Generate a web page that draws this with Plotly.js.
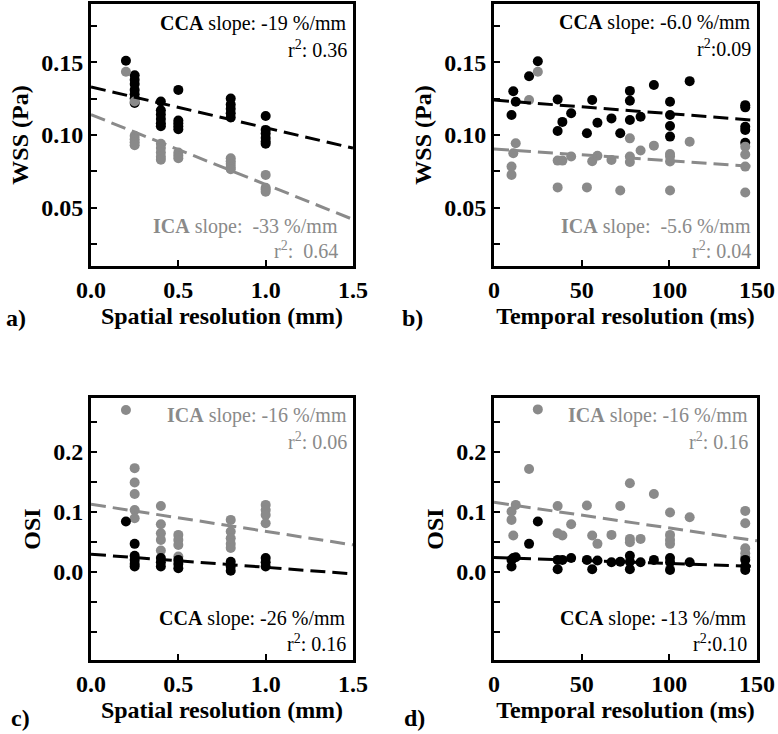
<!DOCTYPE html>
<html>
<head>
<meta charset="utf-8">
<script src="https://cdn.plot.ly/plotly-3.0.1.min.js"></script>
<style>html,body{margin:0;padding:0;background:#fff;}#chart{width:778px;height:734px;}</style>
</head>
<body>
<div id="chart"></div>
<script>
// ---- Panel a: WSS vs spatial resolution ----
const wssSpatialCcaX = [0.2, 0.25,0.25,0.25,0.25,0.25,0.25,0.25, 0.4,0.4,0.4,0.4,0.4,0.4, 0.5,0.5,0.5,0.5,0.5, 0.8,0.8,0.8,0.8,0.8, 1.0,1.0,1.0,1.0,1.0,1.0];
const wssSpatialCcaY = [0.151, 0.141,0.138,0.135,0.131,0.128,0.125,0.122, 0.123,0.117,0.114,0.111,0.108,0.106, 0.131,0.110,0.108,0.106,0.104, 0.125,0.121,0.118,0.115,0.112, 0.113,0.1035,0.101,0.098,0.0955,0.094];
const wssSpatialIcaX = [0.2, 0.25,0.25,0.25,0.25,0.25, 0.4,0.4,0.4,0.4,0.4, 0.5,0.5,0.5, 0.8,0.8,0.8,0.8,0.8, 1.0,1.0,1.0,1.0];
const wssSpatialIcaY = [0.1434, 0.123,0.0995,0.097,0.095,0.093, 0.094,0.091,0.088,0.085,0.083, 0.088,0.086,0.084, 0.084,0.082,0.080,0.078,0.0765, 0.0726,0.0637,0.0625,0.061];
const wssSpatialCcaFitX = [0, 1.5];
const wssSpatialCcaFitY = [0.133, 0.091];
const wssSpatialIcaFitX = [0, 1.5];
const wssSpatialIcaFitY = [0.114, 0.042];

// ---- Panel b: WSS vs temporal resolution ----
const wssTemporalCcaX = [10, 11, 12.4, 20, 25, 36.3, 36.3, 39, 44, 53, 56, 59, 67, 72, 77.5, 77.5, 77.5, 83.6, 91.2, 100.4, 100.4, 100.4, 100.4, 111.6, 143.3, 143.3, 143.3, 143.3, 143.3];
const wssTemporalCcaY = [0.1137, 0.130, 0.1228, 0.1404, 0.1507, 0.1244, 0.1027, 0.109, 0.1149, 0.1012, 0.124, 0.1084, 0.1114, 0.1012, 0.1303, 0.1235, 0.1103, 0.1125, 0.1343, 0.1228, 0.1137, 0.1062, 0.0989, 0.137, 0.1205, 0.119, 0.1057, 0.1035, 0.0947];
const wssTemporalIcaX = [10, 10, 11, 12.4, 20, 25, 36.3, 39, 36.3, 44, 53, 56, 59, 67, 72, 77.5, 77.5, 77.5, 83.6, 91.2, 100.4, 100.4, 100.4, 100.4, 111.6, 143.3, 143.3, 143.3, 143.3];
const wssTemporalIcaY = [0.0783, 0.0726, 0.0875, 0.0943, 0.124, 0.1434, 0.0824, 0.0824, 0.064, 0.0852, 0.064, 0.082, 0.0858, 0.0829, 0.0619, 0.0977, 0.0852, 0.0815, 0.0893, 0.0927, 0.087, 0.0852, 0.0818, 0.0619, 0.0954, 0.092, 0.0866, 0.0783, 0.0605];
const wssTemporalCcaFitX = [0, 150];
const wssTemporalCcaFitY = [0.124, 0.110];
const wssTemporalIcaFitX = [0, 150];
const wssTemporalIcaFitY = [0.0904, 0.0783];

// ---- Panel c: OSI vs spatial resolution ----
const osiSpatialIcaX = [0.2, 0.25,0.25,0.25,0.25,0.25, 0.4,0.4,0.4,0.4,0.4, 0.5,0.5,0.5,0.5, 0.8,0.8,0.8,0.8,0.8, 1.0,1.0,1.0,1.0];
const osiSpatialIcaY = [0.27, 0.173,0.149,0.13,0.103,0.0894, 0.11,0.0794,0.0644,0.0533,0.0356, 0.0617,0.0533,0.045,0.0256, 0.0867,0.0672,0.056,0.0467,0.04, 0.1117,0.103,0.095,0.081];
const osiSpatialCcaX = [0.2, 0.25,0.25,0.25,0.25,0.25, 0.4,0.4,0.4, 0.5,0.5,0.5, 0.8,0.8,0.8, 1.0,1.0,1.0];
const osiSpatialCcaY = [0.0839, 0.0467,0.0267,0.02,0.0133,0.0089, 0.023,0.016,0.009, 0.02,0.0133,0.006, 0.017,0.009,0.002, 0.023,0.016,0.009];
const osiSpatialIcaFitX = [0, 1.5];
const osiSpatialIcaFitY = [0.1128, 0.045];
const osiSpatialCcaFitX = [0, 1.5];
const osiSpatialCcaFitY = [0.0294, -0.0033];

// ---- Panel d: OSI vs temporal resolution ----
const osiTemporalIcaX = [25, 20, 10, 10, 12.4, 11, 36.3, 36.3, 39, 44, 53, 56, 59, 67, 72, 77.5, 77.5, 77.5, 83.6, 91.2, 100.4, 100.4, 100.4, 100.4, 111.6, 143.3, 143.3, 143.3, 143.3, 143.3];
const osiTemporalIcaY = [0.271, 0.1717, 0.1006, 0.0867, 0.1117, 0.0606, 0.11, 0.0644, 0.0606, 0.0794, 0.1106, 0.0606, 0.0467, 0.0617, 0.11, 0.1478, 0.055, 0.0494, 0.055, 0.13, 0.0989, 0.0617, 0.0533, 0.0467, 0.0911, 0.1017, 0.081, 0.0394, 0.031, 0.0244];
const osiTemporalCcaX = [25, 20, 10, 10, 11, 12.4, 36.3, 36.3, 39, 44, 53, 56, 59, 67, 72, 77.5, 77.5, 77.5, 83.6, 91.2, 100.4, 100.4, 100.4, 111.6, 143.3, 143.3, 143.3];
const osiTemporalCcaY = [0.0839, 0.0467, 0.02, 0.009, 0.023, 0.0244, 0.02, 0.0044, 0.02, 0.023, 0.02, 0.0044, 0.019, 0.016, 0.017, 0.0267, 0.017, 0.0044, 0.016, 0.02, 0.023, 0.016, 0.0033, 0.016, 0.02, 0.0094, 0.0033];
const osiTemporalIcaFitX = [0, 150];
const osiTemporalIcaFitY = [0.116, 0.0517];
const osiTemporalCcaFitX = [0, 150];
const osiTemporalCcaFitY = [0.024, 0.009];

// ---- Ticks and text ----
const wssTickVals = [0.05, 0.10, 0.15];
const wssMinorTickVals = [0.025, 0.075, 0.125, 0.175];
const osiTickVals = [0.0, 0.1, 0.2];
const osiMinorTickVals = [-0.1, -0.05, 0.05, 0.15, 0.25];
const xTitles = ['Spatial resolution (mm)', 'Temporal resolution (ms)'];
const yTitles = ['WSS (Pa)', 'OSI'];
const panelLabels = ['a)', 'b)', 'c)', 'd)'];
const statTexts = {
  a: ['<b>CCA</b> slope: -19 %/mm', 'r<sup>2</sup>: 0.36', '<b>ICA</b> slope:  -33 %/mm', 'r<sup>2</sup>:  0.64'],
  b: ['<b>CCA</b> slope: -6.0 %/mm', 'r<sup>2</sup>:0.09', '<b>ICA</b> slope:  -5.6 %/mm', 'r<sup>2</sup>: 0.04'],
  c: ['<b>ICA</b> slope: -16 %/mm', 'r<sup>2</sup>: 0.06', '<b>CCA</b> slope: -26 %/mm', 'r<sup>2</sup>: 0.16'],
  d: ['<b>ICA</b> slope: -16 %/mm', 'r<sup>2</sup>: 0.16', '<b>CCA</b> slope: -13 %/mm', 'r<sup>2</sup>:0.10']
};

const BLACK = '#000000';
const GRAY = '#8a8a8a';
const SERIF = 'Liberation Serif, Times New Roman, serif';

function pts(x, y, color, xa, ya, name) {
  return {type: 'scatter', mode: 'markers', x: x, y: y, xaxis: xa, yaxis: ya, name: name,
    marker: {color: color, size: 10, line: {width: 0}}, showlegend: false, hoverinfo: 'x+y'};
}
function fit(x, y, color, xa, ya, name) {
  return {type: 'scatter', mode: 'lines', x: x, y: y, xaxis: xa, yaxis: ya, name: name,
    line: {color: color, width: 3, dash: '15px,7px'}, showlegend: false, hoverinfo: 'skip'};
}

const data = [
  pts(wssSpatialCcaX, wssSpatialCcaY, BLACK, 'x', 'y', 'CCA'),
  pts(wssSpatialIcaX, wssSpatialIcaY, GRAY, 'x', 'y', 'ICA'),
  fit(wssSpatialCcaFitX, wssSpatialCcaFitY, BLACK, 'x', 'y', 'CCA fit'),
  fit(wssSpatialIcaFitX, wssSpatialIcaFitY, GRAY, 'x', 'y', 'ICA fit'),

  pts(wssTemporalCcaX, wssTemporalCcaY, BLACK, 'x2', 'y2', 'CCA'),
  pts(wssTemporalIcaX, wssTemporalIcaY, GRAY, 'x2', 'y2', 'ICA'),
  fit(wssTemporalCcaFitX, wssTemporalCcaFitY, BLACK, 'x2', 'y2', 'CCA fit'),
  fit(wssTemporalIcaFitX, wssTemporalIcaFitY, GRAY, 'x2', 'y2', 'ICA fit'),

  pts(osiSpatialIcaX, osiSpatialIcaY, GRAY, 'x3', 'y3', 'ICA'),
  pts(osiSpatialCcaX, osiSpatialCcaY, BLACK, 'x3', 'y3', 'CCA'),
  fit(osiSpatialIcaFitX, osiSpatialIcaFitY, GRAY, 'x3', 'y3', 'ICA fit'),
  fit(osiSpatialCcaFitX, osiSpatialCcaFitY, BLACK, 'x3', 'y3', 'CCA fit'),

  pts(osiTemporalIcaX, osiTemporalIcaY, GRAY, 'x4', 'y4', 'ICA'),
  pts(osiTemporalCcaX, osiTemporalCcaY, BLACK, 'x4', 'y4', 'CCA'),
  fit(osiTemporalIcaFitX, osiTemporalIcaFitY, GRAY, 'x4', 'y4', 'ICA fit'),
  fit(osiTemporalCcaFitX, osiTemporalCcaFitY, BLACK, 'x4', 'y4', 'CCA fit')
];

const tickFont = {family: SERIF, size: 24, color: BLACK, weight: 'bold'};
const titleFont = {family: SERIF, size: 24, color: BLACK, weight: 'bold'};

function xAxis(domain, anchor, range, dtick, fmt, title) {
  return {domain: domain, anchor: anchor, range: range, dtick: dtick, tick0: 0, tickformat: fmt,
    showline: true, linewidth: 3, linecolor: BLACK, mirror: true, showgrid: false, zeroline: false,
    ticks: 'inside', ticklen: 6, tickwidth: 2, tickcolor: BLACK, tickfont: tickFont,
    title: {text: title, font: titleFont, standoff: 3}, automargin: false, fixedrange: true};
}
function yAxis(domain, anchor, range, vals, minorVals, fmt, title) {
  return {domain: domain, anchor: anchor, range: range, tickmode: 'array', tickvals: vals, tickformat: fmt,
    showline: true, linewidth: 3, linecolor: BLACK, mirror: true, showgrid: false, zeroline: false,
    ticks: 'inside', ticklen: 6, tickwidth: 2, tickcolor: BLACK, tickfont: tickFont,
    minor: {tickmode: 'array', tickvals: minorVals, ticks: 'inside', ticklen: 6, tickwidth: 2, tickcolor: BLACK, showgrid: false},
    title: {text: title, font: titleFont, standoff: 6}, automargin: false, fixedrange: true};
}

const colL = [91/778, 353/778];
const colR = [494/778, 757/778];
const rowT = [1 - 266/734, 1 - 4/734];
const rowB = [1 - 660/734, 1 - 398/734];

const annotations = [];
function addStats(xa, ya, texts, colorTop, colorBot, xTop, xBot, yPos) {
  const colors = [colorTop, colorTop, colorBot, colorBot];
  texts.forEach(function (t, i) {
    annotations.push({xref: xa + ' domain', yref: ya + ' domain', x: (i < 2 ? xTop : xBot), y: yPos[i],
      xanchor: 'right', yanchor: 'middle', showarrow: false, text: t,
      font: {family: SERIF, size: 20, color: colors[i]}});
  });
}
addStats('x', 'y', statTexts.a, BLACK, GRAY, 0.985, 0.95, [0.925, 0.828, 0.15, 0.062]);
addStats('x2', 'y2', statTexts.b, BLACK, GRAY, 0.985, 0.985, [0.93, 0.833, 0.15, 0.062]);
addStats('x3', 'y3', statTexts.c, GRAY, BLACK, 0.983, 0.98, [0.935, 0.835, 0.16, 0.063]);
addStats('x4', 'y4', statTexts.d, GRAY, BLACK, 0.975, 0.97, [0.935, 0.835, 0.16, 0.063]);

const labelPos = [[16, 318], [412, 318], [20, 718], [414, 718]];
panelLabels.forEach(function (t, i) {
  annotations.push({xref: 'paper', yref: 'paper', x: labelPos[i][0] / 778, y: 1 - labelPos[i][1] / 734,
    xanchor: 'center', yanchor: 'middle', showarrow: false, text: t,
    font: {family: SERIF, size: 24, color: BLACK, weight: 'bold'}});
});

const layout = {
  width: 778, height: 734,
  margin: {l: 0, r: 0, t: 0, b: 0},
  paper_bgcolor: '#ffffff', plot_bgcolor: '#ffffff',
  showlegend: false,
  xaxis: xAxis(colL, 'y', [0, 1.5], 0.5, '.1f', xTitles[0]),
  yaxis: yAxis(rowT, 'x', [0.01, 0.19], wssTickVals, wssMinorTickVals, '.2f', yTitles[0]),
  xaxis2: xAxis(colR, 'y2', [0, 150], 50, 'd', xTitles[1]),
  yaxis2: yAxis(rowT, 'x2', [0.01, 0.19], wssTickVals, wssMinorTickVals, '.2f', yTitles[0]),
  xaxis3: xAxis(colL, 'y3', [0, 1.5], 0.5, '.1f', xTitles[0]),
  yaxis3: yAxis(rowB, 'x3', [-0.147, 0.29], osiTickVals, osiMinorTickVals, '.1f', yTitles[1]),
  xaxis4: xAxis(colR, 'y4', [0, 150], 50, 'd', xTitles[1]),
  yaxis4: yAxis(rowB, 'x4', [-0.147, 0.29], osiTickVals, osiMinorTickVals, '.1f', yTitles[1]),
  annotations: annotations
};

Plotly.newPlot('chart', data, layout, {displayModeBar: false, staticPlot: true});
</script>
</body>
</html>
